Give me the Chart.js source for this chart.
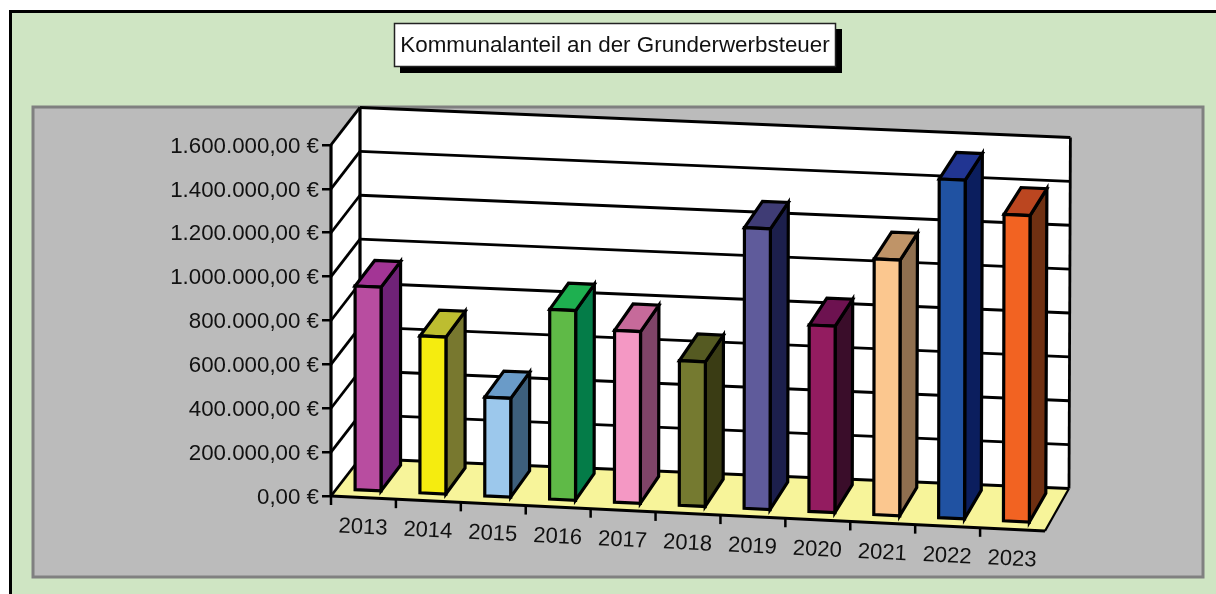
<!DOCTYPE html>
<html><head><meta charset="utf-8">
<style>html,body{margin:0;padding:0;background:#fff}#w{width:1216px;height:594px}canvas{display:block}</style>
<script src="https://cdn.jsdelivr.net/npm/chart.js@4/dist/chart.umd.min.js"></script>
</head><body><div id="w"><canvas id="c" width="1216" height="594"></canvas></div>
<script>
const chartTitle = "Kommunalanteil an der Grunderwerbsteuer";
const categories = ["2013","2014","2015","2016","2017","2018","2019","2020","2021","2022","2023"];
const values = [934000,720000,455000,868000,786000,662000,1279000,851000,1164000,1539000,1392000];
const yTickLabels = ["0,00 €","200.000,00 €","400.000,00 €","600.000,00 €","800.000,00 €","1.000.000,00 €","1.200.000,00 €","1.400.000,00 €","1.600.000,00 €"];
const frontColors = ["#B84DA0","#F5EC0F","#9CC8EC","#5FBA47","#F498C4","#757A30","#5F5B9B","#931C60","#FBC78F","#2052A2","#F26322"];
const topColors = ["#A33595","#BDBD30","#6A9BC8","#1EB050","#C66A9A","#555A22","#3F3C75","#6D1250","#BF9468","#213592","#BB4620"];
const sideColors = ["#6F2277","#78782F","#3D5F7C","#047C48","#7F4468","#3A3C14","#1C1F4C","#3A0D2A","#8F6F4F","#0B1E5E","#6F3012"];

const FONT = '"Liberation Sans", Arial, sans-serif';
const INK = '#111';

function projector(chart){
  const ca = chart.chartArea, W = ca.right-ca.left, H = ca.bottom-ca.top;
  return function(px,py,d){
    const f=(px-ca.left)/W, up=(ca.bottom-py)/H;
    const xf=ca.left+W*f+f*up*0.6, xb=ca.left+29+(W-5)*f+f*up*1.4;
    const yf=py+(35-3.3*up)*f, yb=py-37.5+30*f;
    return [xf+(xb-xf)*d, yf+(yb-yf)*d];
  };
}
function poly(ctx,pts,fill,lw){
  ctx.beginPath();
  pts.forEach((p,i)=>i?ctx.lineTo(p[0],p[1]):ctx.moveTo(p[0],p[1]));
  ctx.closePath();
  if(fill){ctx.fillStyle=fill;ctx.fill();}
  if(lw){ctx.lineWidth=lw;ctx.strokeStyle='#000';ctx.stroke();}
}
function line(ctx,a,b,lw){
  ctx.beginPath();ctx.moveTo(a[0],a[1]);ctx.lineTo(b[0],b[1]);
  ctx.lineWidth=lw;ctx.strokeStyle='#000';ctx.stroke();
}
const frame3d = {
  id:'frame3d',
  afterLayout(chart){
    const s=chart.scales.y;
    s.left=150;
    s.getLabelItems().forEach(it=>{it.textOffset+=1.5;});
  },
  beforeDraw(chart){
    const c=chart.ctx;
    c.save();
    c.fillStyle='#fff';c.fillRect(0,0,1216,594);
    c.fillStyle='#CFE5C3';c.fillRect(10,11,1206,583);
    c.fillStyle='#000';c.fillRect(9,10,1207,3);c.fillRect(9,10,3,584);
    c.fillStyle='#BBBBBB';c.fillRect(33,107,1170,470);
    c.strokeStyle='#808080';c.lineWidth=3;c.strokeRect(33,107,1170,470);
    c.fillStyle='#000';c.fillRect(400,29,442,44);
    c.fillStyle='#fff';c.fillRect(394.5,23.5,441,43);
    c.strokeStyle='#222';c.lineWidth=1.5;c.strokeRect(394.5,23.5,441,43);
    c.restore();
  },
  beforeDatasetsDraw(chart){
    const c=chart.ctx, ca=chart.chartArea, ys=chart.scales.y, xs=chart.scales.x, P=projector(chart);
    const L=ca.left,R=ca.right,T=ca.top,B=ca.bottom;
    c.save();
    c.lineJoin='miter';c.lineCap='butt';
    // walls and floor
    poly(c,[P(L,T,1),P(R,T,1),P(R,B,1),P(L,B,1)],'#fff');
    poly(c,[P(L,T,0),P(L,T,1),P(L,B,1),P(L,B,0)],'#fff');
    poly(c,[P(L,B,0),P(L,B,1),P(R,B,1),P(R,B,0)],'#F7F49A');
    ys.ticks.forEach(t=>{
      const y=ys.getPixelForValue(t.value);
      if(t.value>0){
        line(c,P(L,y,1),P(R,y,1),t.value===1600000?3.2:2.8);
      }
      line(c,P(L,y,0),P(L,y,1),2.8);
    });
    line(c,P(L,B,1),P(R,B,1),3);
    line(c,P(L,T,0),P(L,B,0),3.2);
    line(c,P(L,T,1),P(L,B,1),3.2);
    line(c,P(R,T,1),P(R,B,1),2.8);
    line(c,P(R,B,1),P(R,B,0),2.2);
    line(c,P(L,B,0),P(R,B,0),3.2);
    // category ticks and labels
    const step=(R-L)/categories.length;
    for(let i=0;i<categories.length;i++){
      const cx=xs.getPixelForValue(i), bx=cx-step/2, a=P(bx,B,0);
      line(c,a,[a[0],a[1]+9],2.5);
      const m=P(cx,B,0);
      c.save();
      c.translate(m[0]-0.5,m[1]+30);
      c.rotate(Math.atan(0.049));
      c.fillStyle=INK;c.font='22px '+FONT;c.textAlign='center';c.textBaseline='middle';
      c.fillText(categories[i],0,0);
      c.restore();
    }
    // bars
    const d0=0.16,d1=0.84;
    chart.getDatasetMeta(0).data.forEach((bar,i)=>{
      const hw=bar.width/2, xl=bar.x-hw, xr=bar.x+hw, y=bar.y, b=bar.base;
      poly(c,[P(xr,y,d0),P(xr,y,d1),P(xr,b,d1),P(xr,b,d0)],sideColors[i],3.2);
      poly(c,[P(xl,y,d0),P(xl,y,d1),P(xr,y,d1),P(xr,y,d0)],topColors[i],3.2);
      poly(c,[P(xl,y,d0),P(xr,y,d0),P(xr,b,d0),P(xl,b,d0)],frontColors[i],3.2);
    });
    c.restore();
    return false;
  }
};
new Chart(document.getElementById('c'),{
  type:'bar',
  data:{labels:categories,datasets:[{data:values,backgroundColor:frontColors,categoryPercentage:1,barPercentage:0.4}]},
  plugins:[frame3d],
  options:{
    responsive:false,animation:false,
    layout:{padding:{left:185,right:171,top:0,bottom:0}},
    plugins:{
      legend:{display:false},tooltip:{enabled:false},
      title:{display:true,text:chartTitle,color:INK,font:{family:FONT,size:22.4,weight:'normal'},padding:{top:32.5,bottom:85.6}}
    },
    scales:{
      x:{ticks:{display:false},grid:{display:false},border:{display:false},afterFit(s){s.height=98;}},
      y:{min:0,max:1600000,
        ticks:{stepSize:200000,color:INK,padding:3,font:{family:FONT,size:22.3},callback:(v)=>yTickLabels[Math.round(v/200000)]},
        grid:{drawOnChartArea:false,drawTicks:true,tickLength:9,tickColor:'#000',lineWidth:2.5},
        border:{display:false},afterFit(s){s.width=146;}}
    }
  }
});
</script></body></html>
